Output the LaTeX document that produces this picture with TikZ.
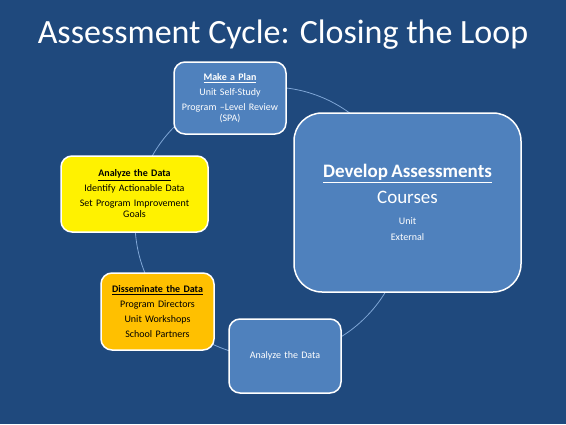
\documentclass[tikz,border=0pt]{standalone}
\usepackage{fontspec}
\setmainfont{Carlito}
\definecolor{slidebg}{HTML}{1F497D}
\definecolor{boxblue}{HTML}{4F81BD}
\definecolor{loopline}{HTML}{7FA6D6}
\definecolor{dissorange}{HTML}{FFC000}
\begin{document}
\begin{tikzpicture}[x=1pt, y=-1pt,
  step box/.style={draw=white, line width=1.5pt, rounded corners=11pt, fill=boxblue, text=white, align=center, inner sep=2pt, font=\fontsize{10}{11}\selectfont},
  yellow box/.style={step box, fill=yellow, text=black},
  orange box/.style={step box, fill=dissorange, text=black}]
\fill[slidebg] (0,0) rectangle (566,424);
\useasboundingbox (0,0) rectangle (566,424);
\node[text=white, anchor=base, font=\fontsize{34}{40}\selectfont] (title) at (283,43) {Assessment Cycle: Closing the Loop};
% the loop behind the steps
\node[draw=loopline, circle, line width=0.8pt, minimum size=270pt, inner sep=0pt] (loop) at (270,222) {};
\node[step box, text width=108pt, minimum height=72pt] (plan) at (230,98)
  {\textbf{\underline{Make a Plan}}\\[4pt] Unit Self-Study\\[4pt] Program --Level Review\\(SPA)};
\node[yellow box, text width=143pt, minimum height=76pt] (analyze) at (134.5,194)
  {\textbf{\underline{Analyze the Data}}\\[4pt] Identify Actionable Data\\[4pt] Set Program Improvement\\Goals};
\node[orange box, text width=109pt, minimum height=77pt] (dissem) at (157.5,311.5)
  {\textbf{\underline{Disseminate the Data}}\\[4pt] Program Directors\\[4pt] Unit Workshops\\[4pt] School Partners};
\node[step box, text width=108pt, minimum height=74pt] (review) at (285,356) {Analyze the Data};
\node[step box, rounded corners=28pt, text width=223pt, minimum height=179pt] (develop) at (407.5,202.5)
  {{\fontsize{19}{20}\selectfont\textbf{\underline{Develop Assessments}}}\\[8pt]
   {\fontsize{19}{20}\selectfont Courses}\\[10pt] Unit\\[5pt] External};
\end{tikzpicture}
\end{document}
